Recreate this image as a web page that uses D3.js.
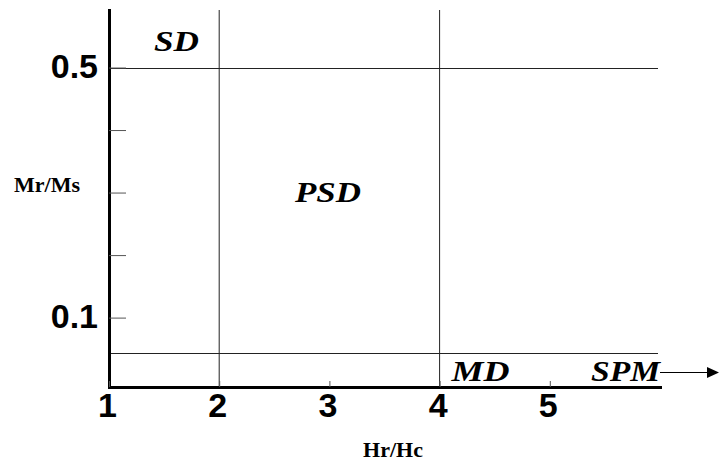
<!DOCTYPE html>
<html>
<head>
<meta charset="utf-8">
<script src="https://cdn.jsdelivr.net/npm/d3@7"></script>
<style>
  html, body { margin: 0; padding: 0; background: #fff; }
  svg { display: block; }
</style>
</head>
<body>
<svg id="chart" width="719" height="468"></svg>
<script>
// Day-plot domain boundaries (Mr/Ms versus Hr/Hc)
const xTicks = [1, 2, 3, 4, 5];
const yTicks = [0.1, 0.2, 0.3, 0.4, 0.5];
const yTickLabels = { 0.1: "0.1", 0.5: "0.5" };
const xBoundaries = [2, 4];          // Hr/Hc limits
const yBoundaries = [0.5, 0.043];    // Mr/Ms limits
const xDomain = [1, 6];
const yDomain = [-0.011, 0.592];
const regionNames = ["SD", "PSD", "MD", "SPM"];
const regionX = [1.613, 2.987, 4.371, 6.0];
const regionY = [0.526, 0.285, -0.0014, -0.0014];
const xTitle = "Hr/Hc";
const yTitle = "Mr/Ms";

const W = 719, H = 468;
const margin = { top: 10, right: 59, bottom: 81, left: 109 };
const svg = d3.select("#chart");

const x = d3.scaleLinear().domain(xDomain).range([margin.left, W - margin.right]);
const y = d3.scaleLinear().domain(yDomain).range([H - margin.bottom, margin.top]);

const tickFont = "'Liberation Sans', Arial, sans-serif";
const serif = "'Liberation Serif', 'Times New Roman', serif";

// boundary lines
svg.append("g").selectAll("line.v").data(xBoundaries).join("line")
  .attr("x1", d => x(d)).attr("x2", d => x(d))
  .attr("y1", y(yDomain[1])).attr("y2", y(yDomain[0]))
  .attr("stroke", "#222").attr("stroke-width", 1);

svg.append("g").selectAll("line.h").data(yBoundaries).join("line")
  .attr("x1", x(xDomain[0])).attr("x2", x(xDomain[1]) - 2)
  .attr("y1", d => Math.round(y(d)) + 0.5).attr("y2", d => Math.round(y(d)) + 0.5)
  .attr("stroke", "#222").attr("stroke-width", 1);

// y axis: inward ticks, labels only on 0.1 and 0.5
const yAxis = d3.axisLeft(y)
  .tickValues(yTicks)
  .tickSizeInner(-17)
  .tickSizeOuter(0)
  .tickPadding(11)
  .tickFormat(d => yTickLabels[d] || "");
const gy = svg.append("g").attr("transform", `translate(${margin.left},0)`).call(yAxis);
gy.selectAll(".tick line").attr("stroke", "#555").attr("stroke-width", 1);
gy.selectAll(".tick text")
  .attr("font-family", tickFont).attr("font-weight", "bold")
  .attr("font-size", 34).attr("fill", "#000").attr("dy", "0.28em");
gy.select(".domain").attr("stroke", "#000").attr("stroke-width", 3)
  .attr("stroke-linecap", "square");

// x axis: short upward ticks
const xAxis = d3.axisBottom(x)
  .tickValues(xTicks)
  .tickSizeInner(-6)
  .tickSizeOuter(0)
  .tickPadding(6)
  .tickFormat(d3.format("d"));
const gx = svg.append("g").attr("transform", `translate(0,${H - margin.bottom})`).call(xAxis);
gx.selectAll(".tick line").attr("stroke", "#555").attr("stroke-width", 1);
gx.selectAll(".tick text")
  .attr("font-family", tickFont).attr("font-weight", "bold")
  .attr("font-size", 34).attr("fill", "#000").attr("dx", "-2");
gx.select(".domain").attr("stroke", "#000").attr("stroke-width", 3)
  .attr("stroke-linecap", "square");

// domain names
const labelWidths = { SD: 45, PSD: 66, MD: 58, SPM: 69 };
svg.append("g").selectAll("text").data(regionNames).join("text")
  .attr("x", (d, i) => x(regionX[i]))
  .attr("y", (d, i) => y(regionY[i]))
  .attr("text-anchor", d => d === "SPM" ? "end" : "middle")
  .attr("font-family", serif).attr("font-style", "italic").attr("font-weight", "bold")
  .attr("font-size", 30).attr("fill", "#000")
  .attr("textLength", d => labelWidths[d])
  .attr("lengthAdjust", "spacingAndGlyphs")
  .text(d => d);

// arrow continuing the SPM field beyond the axis
const ay = Math.round(y(regionY[3]) - 9) + 0.5;
svg.append("line")
  .attr("x1", x(xDomain[1])).attr("x2", W - 11)
  .attr("y1", ay).attr("y2", ay)
  .attr("stroke", "#000").attr("stroke-width", 1);
svg.append("path")
  .attr("d", `M${W - 12},${ay - 5.5} L${W},${ay} L${W - 12},${ay + 5.5} Z`)
  .attr("fill", "#000");

// axis titles
svg.append("text")
  .attr("x", 14).attr("y", 192)
  .attr("font-family", serif).attr("font-weight", "bold")
  .attr("font-size", 22).attr("fill", "#000")
  .text(yTitle);
svg.append("text")
  .attr("x", 393).attr("y", 457)
  .attr("text-anchor", "middle")
  .attr("font-family", serif).attr("font-weight", "bold")
  .attr("font-size", 22).attr("fill", "#000")
  .text(xTitle);
</script>
</body>
</html>
